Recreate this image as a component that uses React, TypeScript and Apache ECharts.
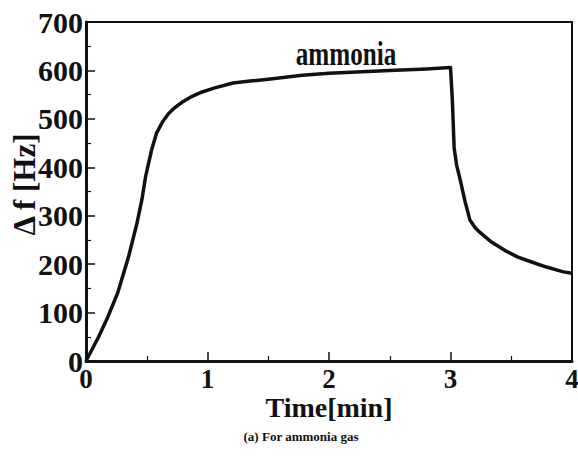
import React, { useEffect, useRef } from "react";
import * as echarts from "echarts";

const times = [0, 0.1, 0.18, 0.26, 0.35, 0.42, 0.46, 0.49, 0.54, 0.58, 0.63, 0.68, 0.73, 0.8, 0.87, 0.95, 1.06, 1.21, 1.35, 1.5, 1.78, 2.0, 2.5, 2.8, 3.0, 3.015, 3.03, 3.05, 3.08, 3.12, 3.16, 3.2, 3.24, 3.34, 3.45, 3.55, 3.65, 3.79, 3.93, 4.0];
const deltaF = [0, 48, 91, 140, 215, 285, 333, 380, 436, 470, 494, 511, 523, 536, 546, 555, 564, 574, 578, 582, 590, 594, 600, 603, 606, 540, 440, 405, 374, 329, 291, 276, 266, 245, 228, 215, 206, 194, 184, 181];
const seriesName = "ammonia";
const xTitle = "Time[min]";
const yTitle = "\u0394 f [Hz]";
const caption = "(a) For ammonia gas";

const FONT = "'Liberation Serif', 'Times New Roman', serif";

export default function App() {
  const ref = useRef<HTMLDivElement>(null);
  useEffect(() => {
    if (!ref.current) return;
    const chart = echarts.init(ref.current, null, { renderer: "svg" });
    const data = times.map((t, i) => [t, deltaF[i]]);
    chart.setOption({
      animation: false,
      backgroundColor: "#fff",
      grid: {
        left: 86,
        right: 6,
        top: 22,
        bottom: 109,
        containLabel: false,
        outerBoundsMode: "none",
        show: true,
        borderColor: "#111",
        borderWidth: 2,
        backgroundColor: "transparent",
      },
      xAxis: {
        type: "value",
        min: 0,
        max: 4,
        interval: 1,
        name: xTitle,
        nameLocation: "middle",
        nameGap: 33,
        nameMoveOverlap: false,
        nameTextStyle: { fontFamily: FONT, fontWeight: "bold", fontSize: 28, color: "#111", lineHeight: 26 },
        axisLine: { show: true, lineStyle: { color: "#111", width: 3 } },
        axisTick: { inside: true, length: 9, lineStyle: { color: "#111", width: 1.5 } },
        minorTick: { show: true, splitNumber: 2, length: 5, lineStyle: { color: "#111", width: 1.2 } },
        splitLine: { show: false },
        axisLabel: { fontFamily: FONT, fontWeight: "bold", fontSize: 27, color: "#111", margin: 6, lineHeight: 24 },
      },
      yAxis: {
        type: "value",
        min: 0,
        max: 700,
        interval: 100,
        name: yTitle,
        nameLocation: "middle",
        nameGap: 46,
        nameMoveOverlap: false,
        nameRotate: 90,
        nameTextStyle: { fontFamily: FONT, fontWeight: "bold", fontSize: 31, color: "#111", padding: [0, 0, 0, 14] },
        axisLine: { show: true, lineStyle: { color: "#111", width: 3 } },
        axisTick: { inside: true, length: 9, lineStyle: { color: "#111", width: 1.5 } },
        minorTick: { show: true, splitNumber: 2, length: 5, lineStyle: { color: "#111", width: 1.2 } },
        splitLine: { show: false },
        axisLabel: { fontFamily: FONT, fontWeight: "bold", fontSize: 30, color: "#111", margin: 3 },
      },
      series: [
        {
          name: seriesName,
          type: "line",
          data,
          showSymbol: false,
          lineStyle: { color: "#111", width: 3.5, join: "round" },
        },
      ],
      graphic: [
        {
          type: "text",
          x: 346,
          y: 53,
          scaleX: 0.74,
          style: {
            text: seriesName,
            fontFamily: FONT,
            fontWeight: "bold",
            fontSize: 34,
            fill: "#111",
            textAlign: "center",
            textVerticalAlign: "middle",
          },
        },
        {
          type: "text",
          x: 301,
          y: 436,
          style: {
            text: caption,
            fontFamily: FONT,
            fontWeight: "bold",
            fontSize: 13,
            fill: "#111",
            textAlign: "center",
            textVerticalAlign: "middle",
          },
        },
      ],
    });
    return () => chart.dispose();
  }, []);
  return <div ref={ref} style={{ position: "fixed", left: 0, top: 0, width: 578, height: 470 }} />;
}
